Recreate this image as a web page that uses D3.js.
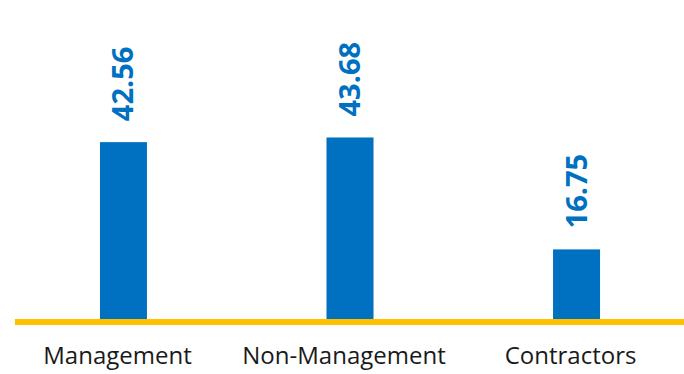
<!DOCTYPE html>
<html>
<head>
<meta charset="utf-8">
<script src="https://cdn.jsdelivr.net/npm/d3@7"></script>
<style>
  html, body { margin: 0; padding: 0; background: #fff; }
  svg { display: block; }
</style>
</head>
<body>
<div id="chart"></div>
<script>
// Average values per employee group
const categories = ["Management", "Non-Management", "Contractors"];
const values = [42.56, 43.68, 16.75];
const valueLabels = ["42.56", "43.68", "16.75"];

const width = 684, height = 374;
const baseY = 319;
const barColor = "#0070C0";
const axisColor = "#FFC000";
const fontFamily = "'Open Sans', 'Noto Sans', sans-serif";

const svg = d3.select("#chart").append("svg")
  .attr("width", width)
  .attr("height", height);

const x = d3.scaleBand()
  .domain(categories)
  .range([15, 685])
  .paddingInner(0.7925)
  .paddingOuter(0.375);

const y = d3.scaleLinear()
  .domain([0, 45])
  .range([baseY, 132]);

const data = categories.map((c, i) => ({ cat: c, value: values[i], label: valueLabels[i] }));

// Bars
svg.append("g").selectAll("rect")
  .data(data)
  .join("rect")
  .attr("x", d => x(d.cat))
  .attr("y", d => y(d.value))
  .attr("width", x.bandwidth())
  .attr("height", d => baseY + 3 - y(d.value))
  .attr("fill", barColor);

// Baseline
svg.append("line")
  .attr("x1", 15)
  .attr("x2", width)
  .attr("y1", baseY + 3)
  .attr("y2", baseY + 3)
  .attr("stroke", axisColor)
  .attr("stroke-width", 6);

// Rotated value labels above bars
svg.append("g").selectAll("text")
  .data(data)
  .join("text")
  .attr("transform", d => `translate(${x(d.cat) + x.bandwidth() / 2 + 10},${y(d.value) - 21}) rotate(-90)`)
  .attr("text-anchor", "start")
  .attr("font-family", fontFamily)
  .attr("font-weight", "bold")
  .attr("font-size", 29)
  .attr("fill", barColor)
  .text(d => d.label);

// Category axis labels
const xAxis = d3.axisBottom(x).tickSize(0).tickPadding(0);
const axisG = svg.append("g")
  .attr("transform", `translate(-6,${baseY})`)
  .call(xAxis);
axisG.select(".domain").remove();
axisG.selectAll("text")
  .attr("y", 45)
  .attr("dy", 0)
  .attr("font-family", fontFamily)
  .attr("font-size", 24)
  .attr("fill", "#1a1a1a");
</script>
</body>
</html>
